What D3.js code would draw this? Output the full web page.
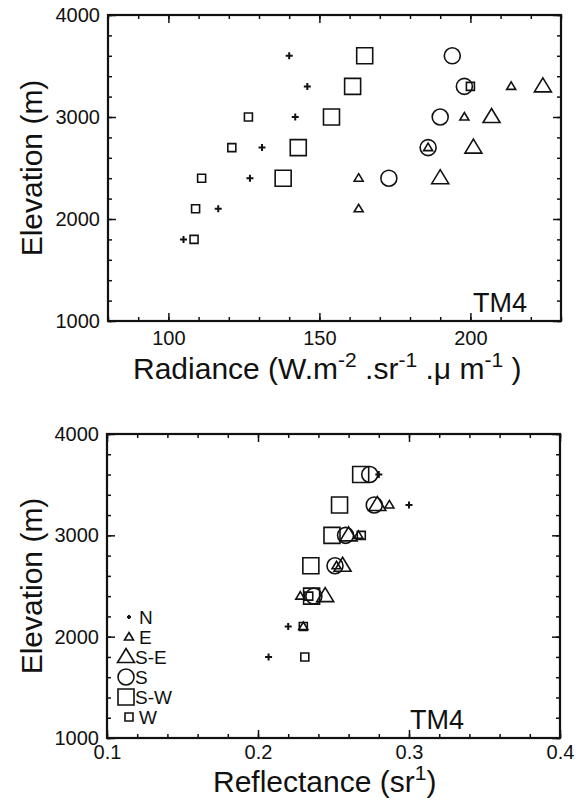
<!DOCTYPE html>
<html>
<head>
<meta charset="utf-8">
<script src="https://cdn.jsdelivr.net/npm/d3@7"></script>
<style>
  body { margin: 0; background: #fff; }
  svg { font-family: "Liberation Sans", Arial, Helvetica, sans-serif; }
  .tick text { font-size: 20px; fill: #111; }
  .tick line { stroke: #111; stroke-width: 1.5; }
</style>
</head>
<body>
<svg id="chart" width="583" height="802"></svg>
<script>
// elevation of each sample row (m)
const elevations = [1800, 2100, 2400, 2700, 3000, 3300, 3600];

// TM4 radiance per aspect (null = no point)
const radN  = [105, 116.5, 127, 131, 142, 146, 140];
const radE  = [null, 163, 163, 186, 198, 213.5, null];
const radSE = [null, null, 190, 201, 207, 224, null];
const radS  = [null, null, 173, 186, 190, 198, 194];
const radSW = [null, null, 138, 143, 154, 161, 165];
const radW  = [108.5, 109, 111, 121, 126.5, 200, null];

// TM4 reflectance per aspect
const refN  = [0.207, 0.220, null, null, null, 0.300, 0.280];
const refE  = [null, 0.230, 0.228, 0.252, 0.2665, 0.287, null];
const refSE = [null, null, 0.2445, 0.256, 0.260, 0.279, null];
const refS  = [null, null, 0.237, 0.251, 0.258, 0.277, 0.274];
const refSW = [null, null, 0.2355, 0.235, 0.249, 0.254, 0.268];
const refW  = [0.231, 0.230, 0.2336, null, 0.2684, null, null];

const aspects = ["N", "E", "S-E", "S", "S-W", "W"];
const radTicks = [100, 150, 200];
const refTicks = [0.1, 0.2, 0.3, 0.4];
const elevTicks = [1000, 2000, 3000, 4000];

// marker shapes
const shapes = {
  "N":   () => `M${-3.5},0H3.5M0,-3.5V3.5`,
  "E":   () => `M0,-4.5L4.5,3L-4.5,3Z`,
  "S-E": () => `M0,-8.5L8.5,5.5L-8.5,5.5Z`,
  "S":   () => d3.symbol().type(d3.symbolCircle).size(Math.PI * 64)(),
  "S-W": () => `M-8,-8H8V8H-8Z`,
  "W":   () => `M-4,-4H4V4H-4Z`
};

const svg = d3.select("#chart");

function series(values) {
  return aspects.map((a, i) => ({
    aspect: a,
    points: elevations.map((e, j) => ({x: values[i][j], y: e})).filter(d => d.x != null)
  }));
}

function panel(opts) {
  const x = d3.scaleLinear().domain(opts.xDomain).range(opts.xRange);
  const y = d3.scaleLinear().domain([1000, 4000]).range(opts.yRange);
  const g = svg.append("g");

  // minor ticks
  g.append("g").attr("transform", `translate(0,${opts.yRange[0]})`)
    .call(d3.axisBottom(x).tickValues(opts.xMinor).tickSize(-4).tickSizeOuter(0).tickFormat(""));
  g.append("g").attr("transform", `translate(0,${opts.yRange[1]})`)
    .call(d3.axisTop(x).tickValues(opts.xMinor).tickSize(-4).tickSizeOuter(0).tickFormat(""));
  g.append("g").attr("transform", `translate(${opts.xRange[0]},0)`)
    .call(d3.axisLeft(y).tickValues(d3.range(1000, 4001, 200)).tickSize(-4).tickSizeOuter(0).tickFormat(""));
  g.append("g").attr("transform", `translate(${opts.xRange[1]},0)`)
    .call(d3.axisRight(y).tickValues(d3.range(1000, 4001, 200)).tickSize(-4).tickSizeOuter(0).tickFormat(""));

  // major ticks + labels
  g.append("g").attr("transform", `translate(0,${opts.yRange[0]})`)
    .call(d3.axisBottom(x).tickValues(opts.xTicks).tickSize(-8).tickSizeOuter(0)
      .tickPadding(opts.xPad).tickFormat(opts.xFormat));
  g.append("g").attr("transform", `translate(0,${opts.yRange[1]})`)
    .call(d3.axisTop(x).tickValues(opts.xTicks).tickSize(-8).tickSizeOuter(0).tickFormat(""));
  g.append("g").attr("transform", `translate(${opts.xRange[0]},0)`)
    .call(d3.axisLeft(y).tickValues(elevTicks).tickSize(-8).tickSizeOuter(0)
      .tickPadding(8).tickFormat(d3.format("d")));
  g.append("g").attr("transform", `translate(${opts.xRange[1]},0)`)
    .call(d3.axisRight(y).tickValues(elevTicks).tickSize(-8).tickSizeOuter(0).tickFormat(""));
  g.selectAll(".domain").remove();

  g.append("rect")
    .attr("x", opts.xRange[0]).attr("y", opts.yRange[1])
    .attr("width", opts.xRange[1] - opts.xRange[0])
    .attr("height", opts.yRange[0] - opts.yRange[1])
    .attr("fill", "none").attr("stroke", "#111").attr("stroke-width", 2.2);

  // points
  series(opts.values).forEach(s => {
    g.selectAll(null)
      .data(s.points)
      .enter().append("path")
      .attr("d", shapes[s.aspect]())
      .attr("transform", d => `translate(${x(d.x)},${y(d.y)})`)
      .attr("fill", "none")
      .attr("stroke", "#111")
      .attr("stroke-width", s.aspect === "N" ? 2 : 1.6);
  });

  g.append("text")
    .attr("x", opts.tmX).attr("y", opts.yRange[0] - 9)
    .attr("font-size", 27).attr("fill", "#111")
    .text("TM4");

  g.append("text")
    .attr("transform", `translate(42,${(opts.yRange[0] + opts.yRange[1]) / 2}) rotate(-90)`)
    .attr("text-anchor", "middle")
    .attr("font-size", 30).attr("fill", "#111")
    .text("Elevation (m)");

  return {g, x, y};
}

function sup(text, s) {
  text.append("tspan").attr("font-size", 21).attr("dy", -12).text(s);
}

// top: radiance
const radPanel = panel({
  xDomain: [80, 230], xRange: [108, 561], yRange: [321, 15],
  xTicks: radTicks, xMinor: d3.range(80, 231, 10), xPad: 10, xFormat: d3.format("d"),
  values: [radN, radE, radSE, radS, radSW, radW], tmX: 473
});

const t1 = radPanel.g.append("text").attr("x", 133).attr("y", 379)
  .attr("font-size", 30).attr("fill", "#111");
t1.append("tspan").text("Radiance (W.m");
sup(t1, "-2");
t1.append("tspan").attr("dy", 12).text(" .sr");
sup(t1, "-1");
t1.append("tspan").attr("dy", 12).text(" .\u03bc m");
sup(t1, "-1");
t1.append("tspan").attr("dy", 12).text(" )");

// bottom: reflectance
const refPanel = panel({
  xDomain: [0.1, 0.4], xRange: [107, 560], yRange: [738, 434],
  xTicks: refTicks, xMinor: d3.range(0.1, 0.4001, 0.02), xPad: 7, xFormat: d3.format(".1f"),
  values: [refN, refE, refSE, refS, refSW, refW], tmX: 410
});

const t2 = refPanel.g.append("text").attr("x", 213).attr("y", 792)
  .attr("font-size", 30).attr("fill", "#111");
t2.append("tspan").text("Reflectance (sr");
sup(t2, "1");
t2.append("tspan").attr("dy", 12).text(")");

// legend
const legend = refPanel.g.append("g");
const legendY = d3.scalePoint().domain(aspects).range([617, 717]);
aspects.forEach(a => {
  const big = a === "S-E" || a === "S" || a === "S-W";
  const cx = big ? 126 : 129;
  legend.append("path")
    .attr("d", a === "N" ? "M-2,0H2M0,-2V2" : shapes[a]())
    .attr("transform", `translate(${cx},${legendY(a)})`)
    .attr("fill", "none").attr("stroke", "#111")
    .attr("stroke-width", a === "N" ? 2.2 : 1.6);
  legend.append("text")
    .attr("x", big ? 135 : 139).attr("y", legendY(a) + 7)
    .attr("font-size", 19).attr("fill", "#111")
    .text(a);
});
</script>
</body>
</html>
